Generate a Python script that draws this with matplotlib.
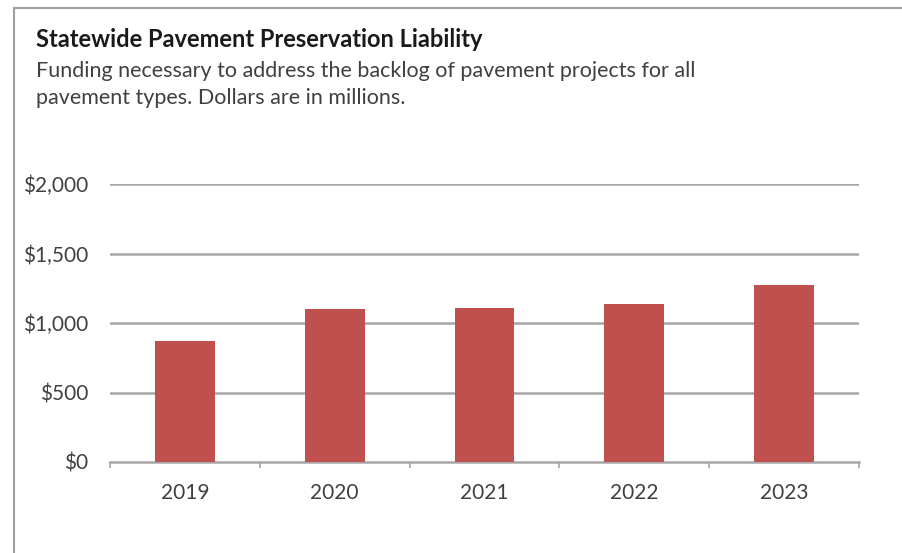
import matplotlib
matplotlib.use("Agg")
import matplotlib.pyplot as plt
from matplotlib.lines import Line2D
from matplotlib.ticker import FuncFormatter

years = ["2019", "2020", "2021", "2022", "2023"]
liability = [870, 1100, 1110, 1135, 1270]
y_ticks = [0, 500, 1000, 1500, 2000]

title = "Statewide Pavement Preservation Liability"
subtitle_lines = [
    "Funding necessary to address the backlog of pavement projects for all",
    "pavement types. Dollars are in millions.",
]

plt.rcParams["font.family"] = ["Lato", "DejaVu Sans"]
text_color = "#404040"
grid_color = "#a6a6a6"
bar_color = "#c0504d"

W, H = 903, 553
fig = plt.figure(figsize=(W / 100, H / 100), dpi=100)
fig.patch.set_facecolor("white")

# frame lines along top and left edges
fig.add_artist(Line2D([14 / W, 1.0], [1 - 8 / H, 1 - 8 / H], color="#a0a0a0", lw=1.5))
fig.add_artist(Line2D([14 / W, 14 / W], [0.0, 1 - 8 / H], color="#a0a0a0", lw=1.5))

fig.text(36 / W, 1 - 47 / H, title, fontsize=17, fontweight="bold",
         color="#1a1a1a", va="baseline", ha="left")
for i, line in enumerate(subtitle_lines):
    fig.text(36 / W, 1 - (77 + 27 * i) / H, line, fontsize=15.5,
             color=text_color, va="baseline", ha="left")

ax = fig.add_axes([110 / W, 1 - 462 / H, (859 - 110) / W, (462 - 184) / H])
x = list(range(len(years)))
ax.bar(x, liability, width=0.4, color=bar_color, zorder=3)

ax.set_xlim(-0.5, len(years) - 0.5)
ax.set_ylim(0, 2000)
ax.set_yticks(y_ticks)
ax.yaxis.set_major_formatter(FuncFormatter(lambda v, p: f"${v:,.0f}"))
ax.set_xticks(x)
ax.set_xticklabels(years)
ax.set_xticks([i - 0.5 for i in range(len(years) + 1)], minor=True)

for v in y_ticks[1:]:
    ax.axhline(v, color=grid_color, lw=1.8, zorder=1)

for s in ["top", "right", "left"]:
    ax.spines[s].set_visible(False)
ax.spines["bottom"].set_color(grid_color)
ax.spines["bottom"].set_linewidth(1.8)

ax.tick_params(axis="y", length=0, pad=15.8, labelsize=15, labelcolor=text_color)
ax.tick_params(axis="x", which="major", length=0, pad=15, labelsize=15,
               labelcolor=text_color)
ax.tick_params(axis="x", which="minor", length=4.5, width=1.2, color=grid_color,
               direction="out")

fig.savefig("out.png", dpi=100, facecolor="white")
